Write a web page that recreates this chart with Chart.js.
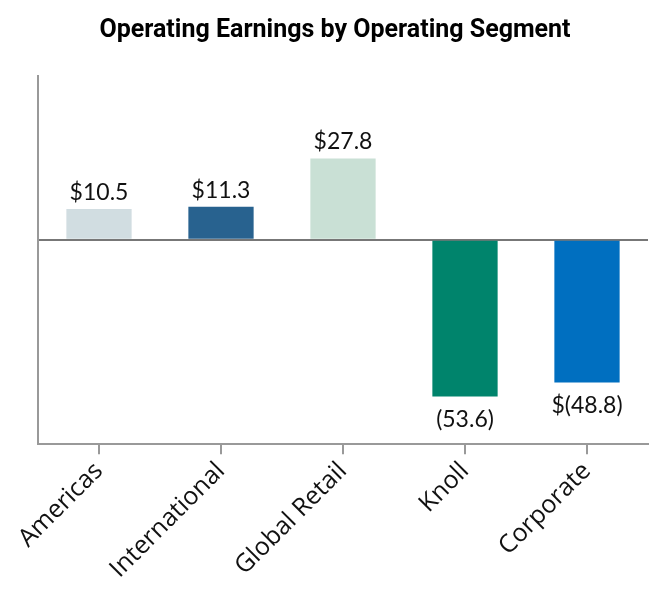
<!DOCTYPE html>
<html>
<head>
<meta charset="utf-8">
<script src="https://cdn.jsdelivr.net/npm/chart.js@4/dist/chart.umd.min.js"></script>
<style>
    html, body { margin: 0; padding: 0; background: #fff; }
    #wrap { width: 666px; height: 600px; }
</style>
</head>
<body>
<div id="wrap"><canvas id="chart" width="666" height="600"></canvas></div>
<script>
// data
const segments = ['Americas', 'International', 'Global Retail', 'Knoll', 'Corporate'];
const earnings = [10.5, 11.3, 27.8, -53.6, -48.8];
const valueLabels = ['$10.5', '$11.3', '$27.8', '(53.6)', '$(48.8)'];
const barColors = ['#d1dde1', '#28628f', '#c9e0d5', '#00846c', '#006fc0'];
const chartTitle = 'Operating Earnings by Operating Segment';

// draws the value above (or below) each bar, plus the title
const valueLabelPlugin = {
    id: 'valueLabels',
    afterDatasetsDraw(chart) {
        const ctx = chart.ctx;
        const meta = chart.getDatasetMeta(0);
        ctx.save();
        ctx.font = '23px "Lato", sans-serif';
        ctx.fillStyle = '#111';
        ctx.textAlign = 'center';
        meta.data.forEach((bar, i) => {
            const v = earnings[i];
            if (v >= 0) {
                ctx.textBaseline = 'bottom';
                ctx.fillText(valueLabels[i], bar.x, bar.y - 5);
            } else {
                ctx.textBaseline = 'top';
                ctx.fillText(valueLabels[i], bar.x, bar.y + 12);
            }
        });

        // title, centred on the page rather than on the padded box
        ctx.font = 'bold 25px Roboto, sans-serif';
        ctx.fillStyle = '#000';
        ctx.textBaseline = 'middle';
        ctx.fillText(chartTitle, 335, 31);
        ctx.restore();
    }
};

new Chart(document.getElementById('chart'), {
    type: 'bar',
    data: {
        labels: segments,
        datasets: [{
            data: earnings,
            backgroundColor: barColors,
            borderWidth: 0,
            barPercentage: 0.535,
            categoryPercentage: 1
        }]
    },
    options: {
        responsive: false,
        animation: false,
        layout: {padding: {left: 38, right: 18, top: 76, bottom: 14}},
        plugins: {
            legend: {display: false},
            tooltip: {enabled: false},
            title: {display: false}
        },
        scales: {
            x: {
                border: {display: true, color: '#999', width: 2},
                grid: {display: true, offset: false, drawOnChartArea: false, drawTicks: true, tickLength: 10, color: '#999', lineWidth: 2},
                ticks: {
                    color: '#111',
                    font: {family: '"Open Sans"', size: 25},
                    minRotation: 45,
                    maxRotation: 45,
                    padding: 2
                }
            },
            y: {
                min: -70,
                max: 56,
                border: {display: true, color: '#999', width: 2},
                grid: {
                    drawTicks: false,
                    color: (c) => c.tick && c.tick.value === 0 ? '#777' : 'rgba(0,0,0,0)',
                    lineWidth: 2
                },
                ticks: {display: false, stepSize: 14}
            }
        }
    },
    plugins: [valueLabelPlugin]
});
</script>
</body>
</html>
